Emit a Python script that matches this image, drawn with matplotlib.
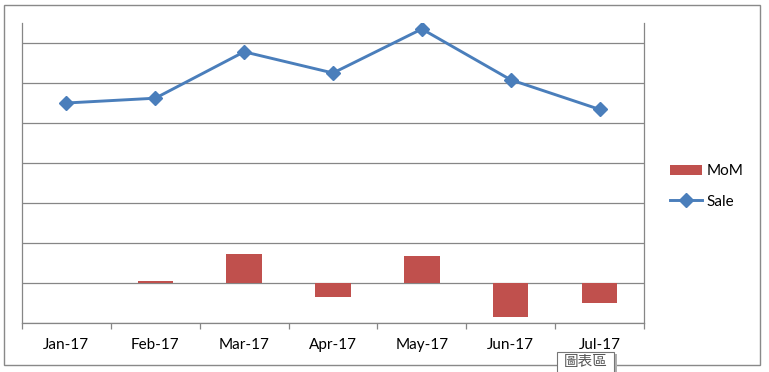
import matplotlib
matplotlib.use("Agg")
import matplotlib.pyplot as plt
from matplotlib.patches import Rectangle
from matplotlib.lines import Line2D
from matplotlib.patches import Patch

months = ["Jan-17", "Feb-17", "Mar-17", "Apr-17", "May-17", "Jun-17", "Jul-17"]
mom = [0.0, 0.05, 0.73, -0.34, 0.68, -0.84, -0.49]
sale = [4.50, 4.62, 5.78, 5.25, 6.35, 5.08, 4.34]

plt.rcParams['font.family'] = ['Lato', 'DejaVu Sans']

W, H = 769, 372
fig = plt.figure(figsize=(W / 100, H / 100), dpi=100)
fig.patch.set_facecolor("white")

# outer chart border
fig.add_artist(Rectangle((4 / W, 1 - 365 / H), (760 - 4) / W, (365 - 5) / H,
                         transform=fig.transFigure, fill=False,
                         edgecolor="#898989", linewidth=1.0))

ax = fig.add_axes([22 / W, 1 - 323 / H, (644 - 22) / W, (323 - 23) / H])
grid_col = "#868686"
x = list(range(len(months)))

ax.bar(x, mom, width=0.4, color="#C0504D", zorder=3)
ax.plot(x, sale, color="#4A7EBB", linewidth=2.1, marker="D", markersize=7,
        markerfacecolor="#4A7EBB", markeredgecolor="#4A7EBB", zorder=4)

ax.set_xlim(-0.5, len(months) - 0.5)
ax.set_ylim(-1, 6.5)
ax.set_yticks(range(-1, 7))
ax.set_yticklabels([])
ax.tick_params(axis="y", length=0)
ax.yaxis.grid(True, color=grid_col, linewidth=0.9, zorder=0)
ax.set_axisbelow(True)

ax.set_xticks(x)
ax.set_xticklabels(months, fontsize=11, color="black")
ax.set_xticks([i - 0.5 for i in range(len(months) + 1)], minor=True)
ax.tick_params(axis="x", which="major", length=0, pad=11)
ax.tick_params(axis="x", which="minor", length=4, color=grid_col, width=0.9, direction="out")

for s in ["left", "right", "bottom"]:
    ax.spines[s].set_color(grid_col)
    ax.spines[s].set_linewidth(0.9)
ax.spines["top"].set_visible(False)

handles = [Patch(facecolor="#C0504D", edgecolor="none"),
           Line2D([0], [0], color="#4A7EBB", linewidth=2.1, marker="D",
                  markersize=7, markerfacecolor="#4A7EBB", markeredgecolor="#4A7EBB")]
fig.legend(handles, ["MoM", "Sale"], loc="center left",
           bbox_to_anchor=(664 / W, 1 - 186.5 / H), frameon=False,
           fontsize=11, handlelength=2.1, handletextpad=0.3, labelspacing=1.05,
           borderaxespad=0)

# Excel tooltip artifact
fig.add_artist(Rectangle((559 / W, 1 - 374 / H), 58 / W, 20 / H,
                         transform=fig.transFigure, facecolor="#b0b0b0",
                         edgecolor="none", zorder=9))
fig.add_artist(Rectangle((557 / W, 1 - 374 / H), 57 / W, 22 / H,
                         transform=fig.transFigure, facecolor="white",
                         edgecolor="#767676", linewidth=0.8, zorder=10))
fig.text(585.5 / W, 1 - 362 / H, "圖表區", fontsize=10.5, color="#555555",
         ha="center", va="center", family=["Noto Sans CJK TC", "DejaVu Sans"], zorder=11)

fig.savefig("out.png", dpi=100)
